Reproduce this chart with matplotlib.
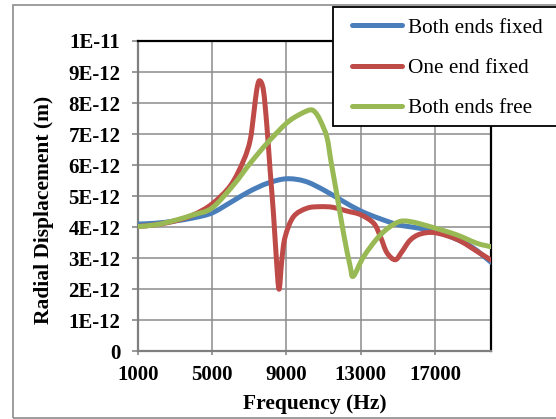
import matplotlib
matplotlib.use("Agg")
import matplotlib.pyplot as plt
from matplotlib.path import Path
from matplotlib.patches import PathPatch, Rectangle
from matplotlib.lines import Line2D

# values, displacement in units of 1E-12 m
freq_fixed = [1000, 2000, 3000, 4000, 5000, 6000, 7000, 8000, 9000, 10000,
              11000, 12000, 13000, 14000, 15000, 16000, 17000, 18000, 19000, 20000]
disp_fixed = [4.10, 4.13, 4.20, 4.30, 4.46, 4.80, 5.15, 5.42, 5.56, 5.48,
              5.20, 4.85, 4.52, 4.28, 4.08, 3.98, 3.87, 3.65, 3.35, 2.87]

freq_one = [1000, 2000, 3000, 4000, 5000, 6000, 6700, 7050, 7250, 7400, 7550,
            7760, 7950, 8120, 8300, 8450, 8600, 8750, 8930, 9380, 10100, 10800,
            11500, 12250, 13000, 13700, 14050, 14400, 14850, 15200, 15650, 16200,
            17000, 18200, 19250, 20000]
disp_one = [4.02, 4.08, 4.20, 4.40, 4.75, 5.35, 6.16, 6.81, 7.70, 8.42, 8.72,
            8.42, 7.24, 5.84, 4.45, 3.05, 2.00, 2.94, 3.69, 4.34, 4.61, 4.66,
            4.64, 4.52, 4.40, 4.12, 3.70, 3.18, 2.95, 3.20, 3.58, 3.78,
            3.82, 3.60, 3.22, 2.94]

freq_free = [1000, 2000, 3000, 4000, 5000, 6150, 7050, 7950, 9000, 9700,
             10280, 10550, 10810, 11175, 11400, 11700, 12070, 12430, 12600, 13150,
             14050, 14950, 15660, 17000, 18170, 19250, 20000]
disp_free = [4.02, 4.08, 4.22, 4.40, 4.62, 5.36, 6.06, 6.70, 7.35, 7.63,
             7.78, 7.70, 7.45, 6.90, 6.10, 5.09, 3.80, 2.73, 2.42, 3.05,
             3.75, 4.15, 4.18, 3.97, 3.75, 3.48, 3.37]

series_names = ["Both ends fixed", "One end fixed", "Both ends free"]
series_colors = ["#4A7EBB", "#BE4B48", "#98B954"]

x_ticks = [1000, 5000, 9000, 13000, 17000]
y_ticks = list(range(0, 11))
y_tick_labels = ["0", "1E-12", "2E-12", "3E-12", "4E-12", "5E-12",
                 "6E-12", "7E-12", "8E-12", "9E-12", "1E-11"]


def smooth_path(xs, ys):
    # Excel style smoothed line: Catmull-Rom segments as cubic Bezier
    pts = list(zip(xs, ys))
    n = len(pts)
    verts = [pts[0]]
    codes = [Path.MOVETO]
    for i in range(n - 1):
        p0 = pts[i - 1] if i > 0 else pts[i]
        p1 = pts[i]
        p2 = pts[i + 1]
        p3 = pts[i + 2] if i + 2 < n else pts[i + 1]
        c1 = (p1[0] + (p2[0] - p0[0]) / 6, p1[1] + (p2[1] - p0[1]) / 6)
        c2 = (p2[0] - (p3[0] - p1[0]) / 6, p2[1] - (p3[1] - p1[1]) / 6)
        verts += [c1, c2, p2]
        codes += [Path.CURVE4] * 3
    return Path(verts, codes)


plt.rcParams["font.family"] = ["Liberation Serif", "DejaVu Serif"]

W, H = 556, 419
fig = plt.figure(figsize=(W / 100, H / 100), dpi=100)

# outer chart border
fig.patches.append(Rectangle((13 / W, 1 / H), 1.0, (H - 6) / H, transform=fig.transFigure,
                             fill=False, edgecolor="#8c8c8c", linewidth=1.2))

ax = fig.add_axes([137.7 / W, 1 - 351.3 / H, (491 - 137.7) / W, (351.3 - 41) / H])

series = [(freq_fixed, disp_fixed), (freq_one, disp_one), (freq_free, disp_free)]
handles = []
for (fx, dy), name, col in zip(series, series_names, series_colors):
    ax.add_patch(PathPatch(smooth_path(fx, dy), fill=False, edgecolor=col,
                           linewidth=3.6, capstyle="round", joinstyle="round", zorder=3))
    handles.append(Line2D([], [], color=col, linewidth=3.6, solid_capstyle="round", label=name))

ax.set_xlim(1000, 20000)
ax.set_ylim(0, 10)
ax.set_xticks(x_ticks)
ax.set_xticklabels([str(v) for v in x_ticks])
ax.set_yticks(y_ticks)
ax.set_yticklabels(y_tick_labels)
ax.grid(True, color="#8c8c8c", linewidth=1.1)
ax.set_axisbelow(True)

for side in ["top", "right"]:
    ax.spines[side].set_color("black")
    ax.spines[side].set_linewidth(1.6)
for side in ["left", "bottom"]:
    ax.spines[side].set_color("#7f7f7f")
    ax.spines[side].set_linewidth(1.6)

ax.tick_params(axis="y", length=4, width=1.1, color="#7f7f7f", pad=8.5, labelsize=15)
ax.tick_params(axis="x", length=3, width=1.1, color="#7f7f7f", pad=7, labelsize=15)
for lab in ax.get_xticklabels() + ax.get_yticklabels():
    lab.set_fontweight("bold")

ax.set_xlabel("Frequency (Hz)", fontsize=15.5, fontweight="bold", va="center")
ax.set_ylabel("Radial Displacement (m)", fontsize=15.5, fontweight="bold", va="center")
ax.xaxis.set_label_coords(0.5, (351.3 - 404) / (351.3 - 41))
ax.yaxis.set_label_coords((44 - 137.7) / (491 - 137.7), (351.3 - 210) / (351.3 - 41))

# legend box runs past the right edge like the reference
fig.patches.append(Rectangle((333 / W, 1 - 126 / H), 0.5, 119 / H, transform=fig.transFigure,
                             facecolor="white", edgecolor="black", linewidth=1.3, zorder=5))
leg = fig.legend(handles=handles, loc="upper left", bbox_to_anchor=(335 / W, 1 - 1 / H),
                 frameon=False, fontsize=15.3, handlelength=2.35, handletextpad=0.3,
                 labelspacing=0.96, borderpad=0.3)
leg.set_zorder(6)

fig.savefig("out.png", dpi=100)
